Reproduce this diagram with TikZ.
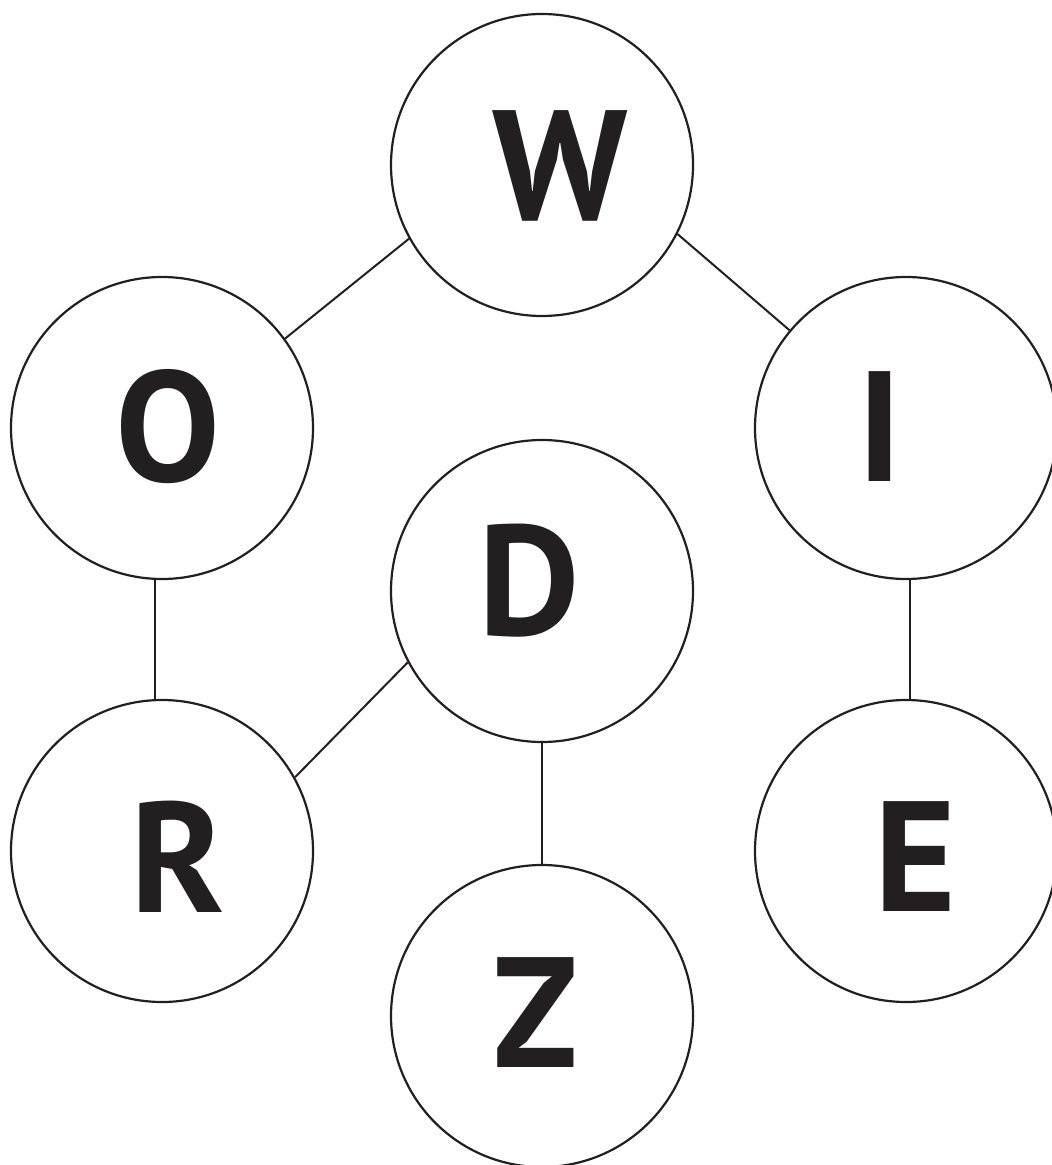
\documentclass[tikz,border=0pt]{standalone}
\usepackage{fontspec}
\setmainfont{PT Sans}
\definecolor{ink}{HTML}{231F20}
\begin{document}
\begin{tikzpicture}[x=0.5pt,y=-0.5pt,
  ring/.style={circle,draw=ink,line width=1.1pt,minimum size=151pt,inner sep=0pt},
  letter/.style={inner sep=0pt,text=ink,font=\fontsize{78.5}{78.5}\selectfont\bfseries},
  link/.style={draw=ink,line width=1pt}]
\useasboundingbox (0,0) rectangle (1051,1165);
\node[ring] (W) at (542,165) {};
\node[ring] (O) at (162,428) {};
\node[ring] (I) at (906,428) {};
\node[ring] (D) at (542,591) {};
\node[ring] (R) at (162,851) {};
\node[ring] (E) at (906,851) {};
\node[ring] (Z) at (542,1016) {};
\node[letter] (tW) at (560,166) {W};
\node[letter] (tO) at (168,427) {O};
\node[letter] (tI) at (879.5,427) {I};
\node[letter] (tD) at (529,581) {D};
\node[letter] (tR) at (177.5,857) {R};
\node[letter] (tE) at (915,856.5) {E};
\node[letter] (tZ) at (536,1013) {Z};
\draw[link] (W.209) -- (O.36);
\draw[link] (W.333) -- (I.140);
\draw[link] ([xshift=-3.5pt]O.south) -- ([xshift=-3.5pt]R.north);
\draw[link] (D.208) -- (R.29);
\draw[link] (D.south) -- (Z.north);
\draw[link] ([xshift=2pt]I.south) -- ([xshift=2pt]E.north);
\end{tikzpicture}
\end{document}
